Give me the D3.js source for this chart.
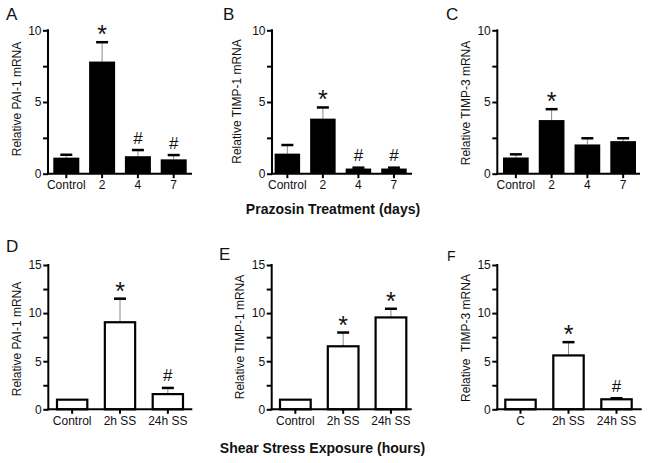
<!DOCTYPE html>
<html>
<head>
<meta charset="utf-8">
<script src="https://cdn.jsdelivr.net/npm/d3@7/dist/d3.min.js"></script>
<style>
  html, body { margin: 0; padding: 0; background: #fff; }
  svg { display: block; font-family: "Liberation Sans", Arial, sans-serif; }
</style>
</head>
<body>
<svg id="chart" width="648" height="463"></svg>
<script>
// ---------------- data ----------------
const panelLetters = ["A", "B", "C", "D", "E", "F"];
const daysCategories = ["Control", "2", "4", "7"];
const shearCategories = ["Control", "2h SS", "24h SS"];
const shearCategoriesF = ["C", "2h SS", "24h SS"];

const yTicksTop = [0, 2.5, 5, 7.5, 10];
const yTicksBottom = [0, 2.5, 5, 7.5, 10, 12.5, 15];
const yTickLabelsTop = ["0", "5", "10"];
const yTickLabelsBottom = ["0", "5", "10", "15"];

const yLabels = ["Relative PAI-1 mRNA", "Relative TIMP-1 mRNA", "Relative TIMP-3 mRNA",
                 "Relative PAI-1 mRNA", "Relative TIMP-1 mRNA", "Relative  TIMP-3 mRNA"];
const xTitleTop = "Prazosin Treatment (days)";
const xTitleBottom = "Shear Stress Exposure (hours)";

// means
const pai1Prazosin  = [1.12, 7.82, 1.22, 1.0];
const timp1Prazosin = [1.4, 3.84, 0.36, 0.36];
const timp3Prazosin = [1.13, 3.74, 2.04, 2.27];
const pai1Shear     = [1.0, 9.05, 1.58];
const timp1Shear    = [1.0, 6.55, 9.55];
const timp3Shear    = [1.0, 5.6, 1.04];

// mean + SEM (top of error bar); null = no error bar
const pai1PrazosinErr  = [1.32, 9.17, 1.65, 1.3];
const timp1PrazosinErr = [2.0, 4.62, 0.42, 0.42];
const timp3PrazosinErr = [1.35, 4.5, 2.47, 2.47];
const pai1ShearErr     = [null, 11.5, 2.22];
const timp1ShearErr    = [null, 7.98, 10.45];
const timp3ShearErr    = [null, 6.98, 1.15];

// significance marks
const pai1PrazosinSig  = ["", "*", "#", "#"];
const timp1PrazosinSig = ["", "*", "#", "#"];
const timp3PrazosinSig = ["", "*", "", ""];
const pai1ShearSig     = ["", "*", "#"];
const timp1ShearSig    = ["", "*", "*"];
const timp3ShearSig    = ["", "*", "#"];

// ---------------- layout ----------------
const svg = d3.select("#chart");
const TXT = "#111";

const panels = [
  { cats: daysCategories, vals: pai1Prazosin, errs: pai1PrazosinErr, sig: pai1PrazosinSig,
    ymax: 10, ticks: yTicksTop, filled: true,
    axisX: 48, y0: 173.7, yTop: 30.3, barsStart: 53.3, barsEnd: 186.7, barW: 26, axisEnd: 192,
    letter: [6, 20, 17], ylab: [21, 99] },
  { cats: daysCategories, vals: timp1Prazosin, errs: timp1PrazosinErr, sig: timp1PrazosinSig,
    ymax: 10, ticks: yTicksTop, filled: true,
    axisX: 272, y0: 173.7, yTop: 30.3, barsStart: 274.6, barsEnd: 406.7, barW: 25.5, axisEnd: 412,
    letter: [223, 20, 17], ylab: [241, 101.5] },
  { cats: daysCategories, vals: timp3Prazosin, errs: timp3PrazosinErr, sig: timp3PrazosinSig,
    ymax: 10, ticks: yTicksTop, filled: true,
    axisX: 497.3, y0: 173.7, yTop: 30.3, barsStart: 503, barsEnd: 636, barW: 25.7, axisEnd: 640,
    letter: [446, 19.5, 17], ylab: [470, 103] },
  { cats: shearCategories, vals: pai1Shear, errs: pai1ShearErr, sig: pai1ShearSig,
    ymax: 15, ticks: yTicksBottom, filled: false,
    axisX: 48.3, y0: 409.3, yTop: 265, barsStart: 56, barsEnd: 184, barW: 32.3, axisEnd: 192.3,
    letter: [6, 252, 17], ylab: [21, 339] },
  { cats: shearCategories, vals: timp1Shear, errs: timp1ShearErr, sig: timp1ShearSig,
    ymax: 15, ticks: yTicksBottom, filled: false,
    axisX: 271.7, y0: 409.3, yTop: 265, barsStart: 279, barsEnd: 407.3, barW: 32.7, axisEnd: 411.7,
    letter: [219, 259.5, 17], ylab: [244, 337] },
  { cats: shearCategoriesF, vals: timp3Shear, errs: timp3ShearErr, sig: timp3ShearSig,
    ymax: 15, ticks: yTicksBottom, filled: false,
    axisX: 497.3, y0: 409.3, yTop: 265, barsStart: 504.3, barsEnd: 632.7, barW: 32.4, axisEnd: 641.7,
    letter: [447, 261, 14], ylab: [470, 338] }
];

panels.forEach((p, i) => {
  const g = svg.append("g");
  const n = p.cats.length;
  const span = p.barsEnd - p.barsStart;
  const step = (span - p.barW) / (n - 1);
  const padIn = 1 - p.barW / step;

  const x = d3.scaleBand().domain(p.cats).range([p.barsStart, p.barsEnd])
    .paddingInner(padIn).paddingOuter(0);
  const y = d3.scaleLinear().domain([0, p.ymax]).range([p.y0, p.yTop]);

  const data = p.cats.map((c, k) => ({ c, v: p.vals[k], e: p.errs[k], s: p.sig[k] }));

  // error whiskers (vertical)
  g.selectAll(".wh").data(data.filter(d => d.e != null)).enter().append("line")
    .attr("x1", d => x(d.c) + x.bandwidth() / 2).attr("x2", d => x(d.c) + x.bandwidth() / 2)
    .attr("y1", d => y(d.v)).attr("y2", d => y(d.e))
    .attr("stroke", "#888").attr("stroke-width", 1);
  // caps
  g.selectAll(".cap").data(data.filter(d => d.e != null)).enter().append("line")
    .attr("x1", d => x(d.c) + x.bandwidth() / 2 - 6).attr("x2", d => x(d.c) + x.bandwidth() / 2 + 6)
    .attr("y1", d => y(d.e)).attr("y2", d => y(d.e))
    .attr("stroke", "#000").attr("stroke-width", 2.5);

  if (p.filled) {
    g.selectAll(".bar").data(data).enter().append("rect")
      .attr("x", d => x(d.c)).attr("width", x.bandwidth())
      .attr("y", d => y(d.v)).attr("height", d => y(0) - y(d.v))
      .attr("fill", "#000");
  } else {
    g.selectAll(".bar").data(data).enter().append("rect")
      .attr("x", d => x(d.c) + 1).attr("width", x.bandwidth() - 2)
      .attr("y", d => y(d.v)).attr("height", d => y(0) - y(d.v))
      .attr("fill", "#fff").attr("stroke", "#000").attr("stroke-width", 2.2);
  }

  // significance marks
  g.selectAll(".sig").data(data.filter(d => d.s)).enter().append("text")
    .attr("x", d => x(d.c) + x.bandwidth() / 2)
    .attr("y", d => {
      const top = y(d.e != null ? d.e : d.v);
      return d.s === "*" ? top + 1 : top - 6.5;
    })
    .attr("text-anchor", "middle")
    .attr("font-size", d => d.s === "*" ? 25 : 17)
    .attr("fill", TXT)
    .text(d => d.s);

  // y axis
  const labelSet = p.ymax === 10 ? yTickLabelsTop : yTickLabelsBottom;
  const yAxis = d3.axisLeft(y).tickValues(p.ticks).tickSize(5).tickPadding(1.5)
    .tickFormat(d => labelSet.includes(String(d)) ? String(d) : "");
  const ya = g.append("g").attr("transform", `translate(${p.axisX},0)`).call(yAxis);
  ya.select(".domain").remove();
  ya.selectAll(".tick line").attr("stroke", "#000").attr("stroke-width", 2);
  ya.selectAll(".tick text").attr("font-size", 12).attr("fill", TXT)
    .attr("font-family", "'Liberation Sans', Arial, sans-serif");
  g.append("line").attr("x1", p.axisX).attr("x2", p.axisX)
    .attr("y1", y(p.ymax) - 1).attr("y2", p.y0 + 1)
    .attr("stroke", "#000").attr("stroke-width", 2);

  // x axis
  const xAxis = d3.axisBottom(x).tickSize(4.5).tickPadding(2.5);
  const xa = g.append("g").attr("transform", `translate(0,${p.y0})`).call(xAxis);
  xa.select(".domain").remove();
  xa.selectAll(".tick line").attr("stroke", "#000").attr("stroke-width", 2);
  xa.selectAll(".tick text").attr("font-size", 12).attr("fill", TXT)
    .attr("font-family", "'Liberation Sans', Arial, sans-serif");
  g.append("line").attr("x1", p.axisX - 1).attr("x2", p.axisEnd)
    .attr("y1", p.y0).attr("y2", p.y0)
    .attr("stroke", "#000").attr("stroke-width", 2);

  // y label
  g.append("text")
    .attr("transform", `translate(${p.ylab[0]},${p.ylab[1]}) rotate(-90)`)
    .attr("text-anchor", "middle").attr("font-size", 12).attr("fill", TXT)
    .style("white-space", "pre")
    .text(yLabels[i]);

  // panel letter
  g.append("text").attr("x", p.letter[0]).attr("y", p.letter[1])
    .attr("font-size", p.letter[2]).attr("fill", TXT)
    .text(panelLetters[i]);
});

// x titles
svg.append("text").attr("x", 333).attr("y", 213.5).attr("text-anchor", "middle")
  .attr("font-size", 14).attr("font-weight", "bold").attr("fill", TXT).text(xTitleTop);
svg.append("text").attr("x", 322.5).attr("y", 452.5).attr("text-anchor", "middle")
  .attr("font-size", 14).attr("font-weight", "bold").attr("fill", TXT).text(xTitleBottom);
</script>
</body>
</html>
